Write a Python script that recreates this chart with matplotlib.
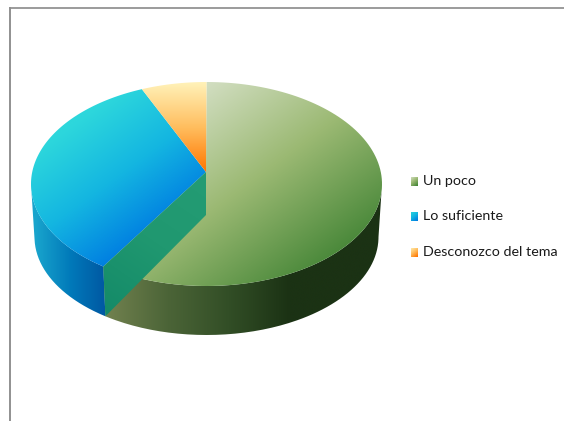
import numpy as np
import matplotlib
matplotlib.use("Agg")
import matplotlib.pyplot as plt
from matplotlib.path import Path
from matplotlib.patches import PathPatch
from matplotlib.colors import LinearSegmentedColormap

categories = ["Un poco", "Lo suficiente", "Desconozco del tema"]
shares = [60, 34, 6]

W, H = 564, 421
APEX = (206, 172)
APEX_LOW = (206, 215)
TOP = dict(cx=206.5, cy=184, rx=175.5, ry=102)
BOTTOM = dict(cx=206.5, cy=237, rx=172, ry=98)

def rgb(*c):
    return tuple(v / 255 for v in c)

TOP_COLOURS = [
    [rgb(216, 226, 202), rgb(155, 185, 115), rgb(68, 133, 54)],
    [rgb(45, 215, 220), rgb(20, 182, 225), rgb(0, 125, 225)],
    [rgb(255, 242, 185), rgb(255, 190, 95), rgb(255, 118, 0)],
]
TOP_AXES = [((190, 80), (330, 270)), ((85, 115), (165, 225)), ((206, 82), (206, 172))]
WALL_COLOURS = {
    "green": [rgb(112, 128, 78), rgb(75, 100, 55), rgb(50, 78, 38), rgb(27, 50, 20)],
    "blue": [rgb(25, 165, 205), rgb(0, 120, 185), rgb(0, 85, 160)],
}

fig = plt.figure(figsize=(W / 100, H / 100), dpi=100, facecolor="white")
ax = fig.add_axes([0, 0, 1, 1])
ax.axis("off")


def rim(e, a0, a1, n=120):
    # angles are measured clockwise from the top of the ellipse
    t = np.radians(np.linspace(a0, a1, n))
    return np.column_stack([e["cx"] + e["rx"] * np.sin(t), e["cy"] - e["ry"] * np.cos(t)])


def fill_gradient(poly, colours, start, end):
    poly = np.asarray(poly, float)
    x0, y0 = poly.min(axis=0) - 1
    x1, y1 = poly.max(axis=0) + 1
    xs, ys = np.meshgrid(np.linspace(x0, x1, 400), np.linspace(y0, y1, 400))
    d = np.array(end, float) - np.array(start, float)
    frac = ((xs - start[0]) * d[0] + (ys - start[1]) * d[1]) / (d @ d)
    cmap = LinearSegmentedColormap.from_list("g", colours)
    im = ax.imshow(np.clip(frac, 0, 1), cmap=cmap, vmin=0, vmax=1, aspect="auto",
                   extent=(x0, x1, y1, y0), interpolation="bilinear", zorder=2)
    clip = PathPatch(Path(np.vstack([poly, poly[:1]])), fc="none", ec="none",
                     transform=ax.transData)
    ax.add_patch(clip)
    im.set_clip_path(clip)


angles = np.cumsum([0] + shares) / sum(shares) * 360
split = angles[1]

# outer wall, divided where the first two slices meet
fill_gradient(np.vstack([rim(TOP, 90, split), rim(BOTTOM, split, 90)]),
              WALL_COLOURS["green"], (108, 0), (290, 0))
fill_gradient(np.vstack([rim(TOP, split, 270), rim(BOTTOM, 270, split)]),
              WALL_COLOURS["blue"], (35, 0), (108, 0))

# top faces
for i in range(3):
    outline = np.vstack([[APEX], rim(TOP, angles[i], angles[i + 1])])
    fill_gradient(outline, TOP_COLOURS[i], *TOP_AXES[i])

# cut face of the large slice
cut = np.array([APEX, APEX_LOW, rim(BOTTOM, split, split, 1)[0], rim(TOP, split, split, 1)[0]])
fill_gradient(cut, [rgb(36, 156, 116), rgb(32, 152, 112), rgb(20, 138, 104)],
              (206, 172), (108, 316))

# frame
ax.plot([9.5, 564], [7.5, 7.5], color="#808080", lw=1.1, zorder=3)
ax.plot([9.5, 9.5], [7.5, 421], color="#909090", lw=1.4, zorder=3)

# legend
legend_y = [181, 216, 252]
for name, cols, y in zip(categories, TOP_COLOURS, legend_y):
    square = [(411, y - 4.5), (418, y - 4.5), (418, y + 4.5), (411, y + 4.5)]
    fill_gradient(square, cols, (411, y - 4.5), (418, y + 4.5))
    ax.text(423, y, name, fontsize=10.3, family="Lato", color="#1a1a1a",
            va="center", ha="left", zorder=4)

ax.set_xlim(0, W)
ax.set_ylim(H, 0)
fig.savefig("out.png", dpi=100, facecolor="white")
